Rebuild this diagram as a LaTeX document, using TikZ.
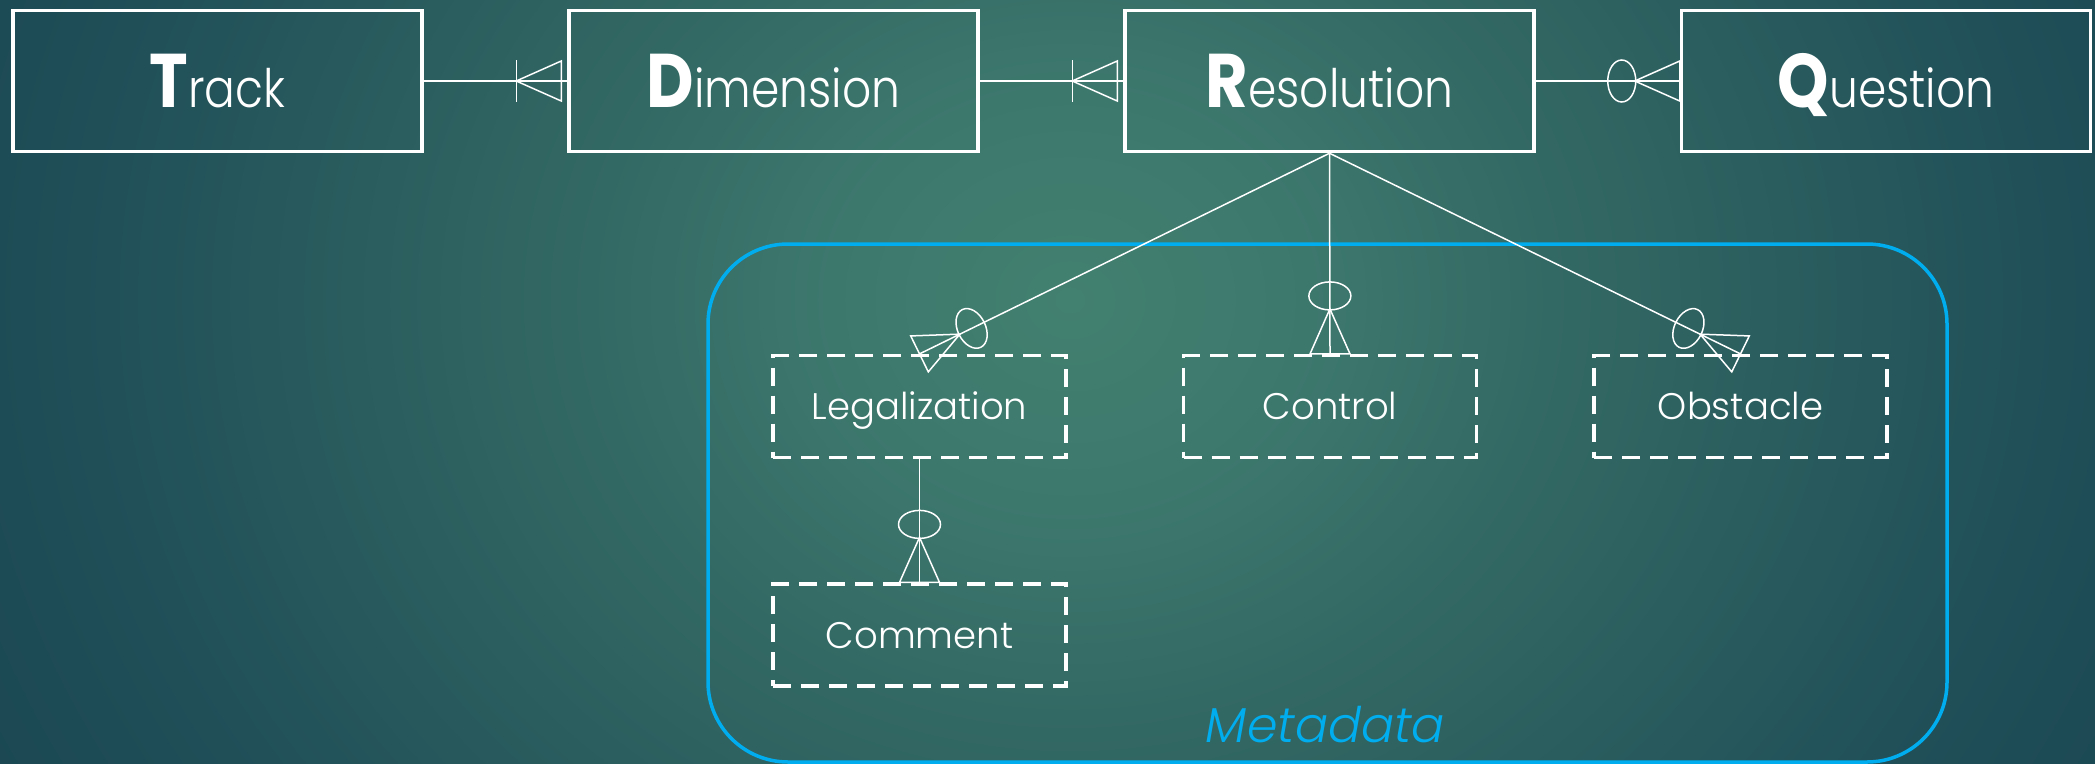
\documentclass[tikz,border=0pt]{standalone}
\usepackage{fontspec}
\setmainfont{Poppins}[UprightFont=* Light, BoldFont=* Bold, ItalicFont=* Light Italic]
\newfontfamily\entfont{Poppins}[UprightFont=* Light, BoldFont=* Bold, FakeStretch=0.86]
\usetikzlibrary{calc}
\definecolor{bgA}{HTML}{42806F}
\definecolor{bgB}{HTML}{3D786D}
\definecolor{bgC}{HTML}{336964}
\definecolor{bgD}{HTML}{2A5D5E}
\definecolor{bgE}{HTML}{215059}
\definecolor{bgF}{HTML}{1B4853}
\definecolor{bgG}{HTML}{1A4651}
\definecolor{meta}{HTML}{00AEEF}
\pgfdeclareradialshading{bgshade}{\pgfpoint{0bp}{0bp}}{color(0bp)=(bgA); color(4bp)=(bgB); color(8bp)=(bgC); color(12bp)=(bgD); color(16bp)=(bgE); color(20bp)=(bgF); color(100bp)=(bgG)}
\tikzset{
  entity/.style={draw=white, line width=3.5pt, minimum width=409pt, minimum height=141pt, inner sep=0pt, text=white, text height=53pt, text depth=0pt},
  attr/.style={draw=white, line width=3.2pt, dash pattern=on 18pt off 10pt, minimum width=293pt, minimum height=102pt, inner sep=0pt, text=white, font=\fontsize{37}{37}\selectfont, text height=26pt, text depth=0pt},
  conn/.style={draw=white, line width=1.5pt},
  group/.style={draw=meta, line width=3.5pt, rounded corners=80pt, minimum width=1239pt, minimum height=518pt},
  grouplabel/.style={anchor=base east, text=meta, font=\itshape\fontsize{49}{49}\selectfont, inner sep=0pt}
}
\newcommand\entname[2]{{\entfont\bfseries\fontsize{76}{76}\selectfont #1}{\entfont\fontsize{53}{53}\selectfont #2}}
\newcommand\crowzero[2]{%
  \pgfmathanglebetweenpoints{\pgfpointanchor{#2}{center}}{\pgfpointanchor{#1}{center}}%
  \edef\erang{\pgfmathresult}%
  \begin{scope}[shift={(#2)}, rotate=\erang, x=1pt, y=1pt]
    \draw[conn] (58,0) ellipse [x radius=14pt, y radius=21pt];
    \draw[conn] (0,20) -- (45,0) -- (0,-20) -- cycle;
  \end{scope}}
\newcommand\crowone[2]{%
  \pgfmathanglebetweenpoints{\pgfpointanchor{#2}{center}}{\pgfpointanchor{#1}{center}}%
  \edef\erang{\pgfmathresult}%
  \begin{scope}[shift={(#2)}, rotate=\erang, x=1pt, y=1pt]
    \draw[conn] (51,-21) -- (51,21);
    \draw[conn] (6,20) -- (51,0) -- (6,-20) -- cycle;
  \end{scope}}
\begin{document}
\begin{tikzpicture}[x=1pt, y=-1pt]
\useasboundingbox (0,0) rectangle (2095,763);
\begin{scope}
  \clip (0,0) rectangle (2095,763);
  \shade[shading=bgshade] (-430,-1000) rectangle (2570,1600);
\end{scope}
% group
\node[group] (meta) at (1327.5,503) {};
\node[grouplabel] (metalbl) at (1445,742) {Metadata};
% entities
\node[entity] (track) at (217.5,81) {\entname{T}{rack}};
\node[entity] (dim) at (773.5,81) {\entname{D}{imension}};
\node[entity] (res) at (1329.5,81) {\entname{R}{esolution}};
\node[entity] (que) at (1886,81) {\entname{Q}{uestion}};
% attributes
\node[attr] (leg) at (919.5,406.5) {Legalization};
\node[attr] (ctl) at (1330,406.5) {Control};
\node[attr] (obs) at (1740.5,406.5) {Obstacle};
\node[attr] (com) at (919.5,635) {Comment};
% anchor coordinates
\coordinate (trE) at (track.east);
\coordinate (dmW) at (dim.west);
\coordinate (dmE) at (dim.east);
\coordinate (rsW) at (res.west);
\coordinate (rsE) at (res.east);
\coordinate (qW) at (que.west);
\coordinate (rsS) at (res.south);
\coordinate (lgN) at (leg.north);
\coordinate (ctN) at (ctl.north);
\coordinate (obN) at (obs.north);
\coordinate (lgS) at (leg.south);
\coordinate (cmN) at (com.north);
% connectors
\draw[conn] (trE) -- (dmW);
\draw[conn] (dmE) -- (rsW);
\draw[conn] (rsE) -- (qW);
\draw[conn] (rsS) -- (lgN);
\draw[conn] (rsS) -- (ctN);
\draw[conn] (rsS) -- (obN);
\draw[conn] (lgS) -- (cmN);
\crowone{trE}{dmW}
\crowone{dmE}{rsW}
\crowzero{rsE}{qW}
\crowzero{rsS}{lgN}
\crowzero{rsS}{ctN}
\crowzero{rsS}{obN}
\crowzero{lgS}{cmN}
\end{tikzpicture}
\end{document}
